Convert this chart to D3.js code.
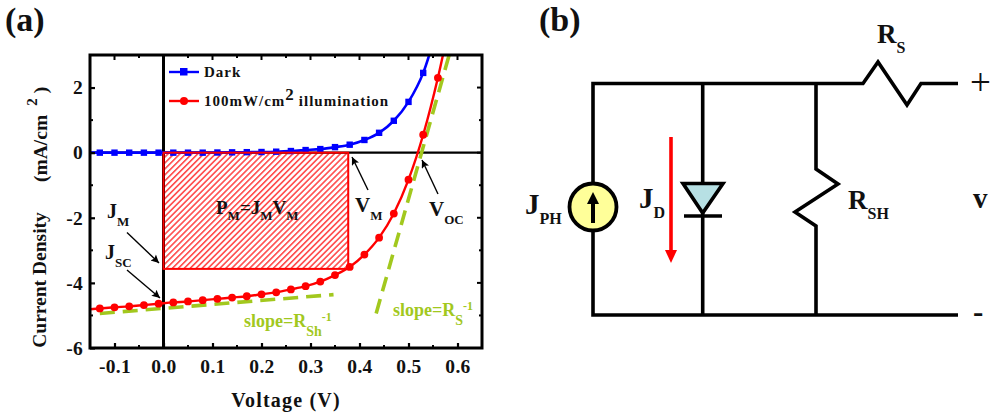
<!DOCTYPE html>
<html><head><meta charset="utf-8">
<script src="https://cdnjs.cloudflare.com/ajax/libs/d3/7.8.5/d3.min.js"></script>
<style>html,body{margin:0;background:#fff}svg{display:block}text{font-family:"Liberation Serif",serif;font-weight:bold;fill:#111}</style>
</head><body><svg id="c" width="1000" height="420"></svg>
<script>
const voltage=[-0.13,-0.10,-0.07,-0.04,-0.01,0.02,0.05,0.08,0.11,0.14,0.17,0.20,0.23,0.26,0.29,0.32,0.35,0.38,0.41,0.44,0.47,0.50,0.53,0.56];
const darkJ=[0,0,0,0,0,0,0,0,0.005,0.01,0.015,0.02,0.03,0.05,0.08,0.11,0.17,0.245,0.39,0.61,0.98,1.56,2.45,3.9];
const lightJ=[-4.785,-4.75,-4.72,-4.68,-4.64,-4.60,-4.57,-4.53,-4.49,-4.45,-4.41,-4.35,-4.29,-4.20,-4.10,-3.96,-3.76,-3.51,-3.13,-2.61,-1.87,-0.83,0.55,2.30];
const xTicks=[-0.1,0,0.1,0.2,0.3,0.4,0.5,0.6];
const xMinor=[-0.05,0.05,0.15,0.25,0.35,0.45,0.55];
const yTicks=[-6,-4,-2,0,2];
const yMinor=[-5,-3,-1,1];
const shuntFit=[[-0.13,-4.94],[0.347,-4.36]];
const seriesFit=[[0.434,-4.94],[0.583,3]];
const maxPower={v:0.377,j:-3.57};

const svg=d3.select("#c");
const x=d3.scaleLinear([-0.15,0.65],[90,482]);
const y=d3.scaleLinear([-6,3],[348,55]);
const RED="#ff0000",BLUE="#0000ff",GREEN="#a2c81e";
const defs=svg.append("defs");
const pat=defs.append("pattern").attr("id","hatch").attr("width",4.2).attr("height",4.2)
 .attr("patternUnits","userSpaceOnUse").attr("patternTransform","rotate(-45)");
pat.append("rect").attr("width",4.2).attr("height",1.6).attr("fill",RED).attr("opacity",.7);
const clip=defs.append("clipPath").attr("id","pl");
clip.append("rect").attr("x",x(-0.15)).attr("y",y(3)).attr("width",x(0.65)-x(-0.15)).attr("height",y(-6)-y(3));
const mk=defs.append("marker").attr("id","ah").attr("viewBox","0 0 10 10").attr("refX",10).attr("refY",5)
 .attr("markerWidth",10).attr("markerHeight",8).attr("markerUnits","userSpaceOnUse").attr("orient","auto");
mk.append("path").attr("d","M0,0L10,5L0,10L2,5Z").attr("fill","#000");

function label(g,px,py,main,sub,size,subSize,fill,ls){
 const t=g.append("text").attr("x",px).attr("y",py).attr("font-size",size);
 if(fill)t.style("fill",fill);
 if(ls)t.attr("letter-spacing",ls);
 t.append("tspan").text(main);
 if(sub){t.append("tspan").attr("font-size",subSize).attr("dy",subSize*0.65).text(sub);}
 return t;
}

// Panel (a)
const a=svg.append("g");
a.append("rect").attr("x",x(0)).attr("y",y(0)).attr("width",x(maxPower.v)-x(0)).attr("height",y(maxPower.j)-y(0))
 .attr("fill","url(#hatch)");
a.append("line").attr("x1",x(-0.15)).attr("x2",x(0.65)).attr("y1",y(0)).attr("y2",y(0)).attr("stroke","#000").attr("stroke-width",2.4);
a.append("line").attr("x1",x(0)).attr("x2",x(0)).attr("y1",y(3)).attr("y2",y(-6)).attr("stroke","#000").attr("stroke-width",3);

const plot=a.append("g").attr("clip-path","url(#pl)");
const ln=d3.line().x(d=>x(d[0])).y(d=>y(d[1]));
[shuntFit,seriesFit].forEach(d=>plot.append("path").attr("d",ln(d)).attr("fill","none").attr("stroke",GREEN).attr("stroke-width",3.6).attr("stroke-dasharray","15 8"));
const smooth=d3.line().x(d=>x(d[0])).y(d=>y(d[1])).curve(d3.curveMonotoneX);
const dark=voltage.map((v,i)=>[v,darkJ[i]]),light=voltage.map((v,i)=>[v,lightJ[i]]);
plot.append("path").attr("d",smooth([[-0.15,0],...dark])).attr("fill","none").attr("stroke",BLUE).attr("stroke-width",2.6);
plot.selectAll(".d").data(dark).join("rect").attr("x",d=>x(d[0])-3.2).attr("y",d=>y(d[1])-3.2).attr("width",6.4).attr("height",6.4).attr("fill",BLUE);
a.append("rect").attr("x",x(0)).attr("y",y(0)).attr("width",x(maxPower.v)-x(0)).attr("height",y(maxPower.j)-y(0))
 .attr("fill","none").attr("stroke",RED).attr("stroke-width",2);
const plot2=a.append("g").attr("clip-path","url(#pl)");
plot2.append("path").attr("d",smooth([[-0.15,-4.81],...light,[0.6,5.2]])).attr("fill","none").attr("stroke",RED).attr("stroke-width",2.4);
plot2.selectAll(".l").data(light).join("circle").attr("cx",d=>x(d[0])).attr("cy",d=>y(d[1])).attr("r",3.9).attr("fill",RED);

const hy=f=>d=>f(d).replace("\u2212","-");
const bottom=d3.axisBottom(x).tickValues(xTicks).tickSizeOuter(0).tickSizeInner(-5).tickPadding(11).tickFormat(hy(d3.format(".1f")));
const left=d3.axisLeft(y).tickValues(yTicks).tickSizeOuter(0).tickSizeInner(-5).tickPadding(7).tickFormat(hy(d3.format("d")));
function ax(gen,tr){const g=a.append("g").attr("transform",tr).call(gen);g.select(".domain").remove();
 g.selectAll("line").attr("stroke","#000").attr("stroke-width",2.2);
 g.selectAll("text").attr("font-size",19.5).style("font-family",'"Liberation Serif",serif').style("font-weight","bold").attr("letter-spacing",.3).attr("fill","#111");return g;}
ax(bottom,`translate(0,${y(-6)})`);
ax(left,`translate(${x(-0.15)},0)`);
const tk=(vals,f,len)=>vals.forEach(v=>{const p=f(v,len);a.append("line").attr("x1",p[0]).attr("y1",p[1]).attr("x2",p[2]).attr("y2",p[3]).attr("stroke","#000").attr("stroke-width",2);});
tk(xTicks,(v,l)=>[x(v),y(3),x(v),y(3)+l],5);
tk(xMinor,(v,l)=>[x(v),y(3),x(v),y(3)+l],3);
tk(xMinor,(v,l)=>[x(v),y(-6),x(v),y(-6)-l],3);
tk(yTicks,(v,l)=>[x(0.65),y(v),x(0.65)-l,y(v)],5);
tk(yMinor,(v,l)=>[x(0.65),y(v),x(0.65)-l,y(v)],3);
tk(yMinor,(v,l)=>[x(-0.15),y(v),x(-0.15)+l,y(v)],3);
a.append("rect").attr("x",x(-0.15)).attr("y",y(3)).attr("width",x(0.65)-x(-0.15)).attr("height",y(-6)-y(3)).attr("fill","none").attr("stroke","#000").attr("stroke-width",3);

// legend
a.append("line").attr("x1",169).attr("x2",199).attr("y1",72).attr("y2",72).attr("stroke",BLUE).attr("stroke-width",2.4);
a.append("rect").attr("x",180).attr("y",68).attr("width",7.5).attr("height",7.5).attr("fill",BLUE);
a.append("text").attr("x",204).attr("y",77).attr("font-size",15).attr("letter-spacing",1).text("Dark");
a.append("line").attr("x1",169).attr("x2",199).attr("y1",101).attr("y2",101).attr("stroke",RED).attr("stroke-width",2.4);
a.append("circle").attr("cx",184).attr("cy",101).attr("r",4).attr("fill",RED);
const lg=a.append("text").attr("x",204).attr("y",106).attr("font-size",15).attr("letter-spacing",1);
lg.append("tspan").text("100mW/cm");
lg.append("tspan").attr("font-size",17).attr("dy",-6).text("2");
lg.append("tspan").attr("dy",6).attr("dx",4).text("illumination");

// axis titles
a.append("text").attr("x",286).attr("y",407).attr("text-anchor","middle").attr("font-size",20).attr("letter-spacing",1.2).text("Voltage (V)");
a.append("text").attr("transform","translate(46,280) rotate(-90)").attr("text-anchor","middle").attr("font-size",19.5).text("Current Density");
const yt=a.append("text").attr("transform","translate(47,182) rotate(-90)").attr("font-size",19.5);
yt.append("tspan").text("(mA/cm");
yt.append("tspan").attr("font-size",15).attr("dx",9).attr("dy",-10).text("2");
yt.append("tspan").attr("dx",5).attr("dy",10).text(")");

// annotations
[[127,232.5,159,263],[127,270,160,298],[368,190,352,157],[438,194,422,160]].forEach(c=>
 a.append("line").attr("x1",c[0]).attr("y1",c[1]).attr("x2",c[2]).attr("y2",c[3]).attr("stroke","#000").attr("stroke-width",1.4).attr("marker-end","url(#ah)"));
label(a,107,218,"J","M",20,13);
label(a,105,259,"J","SC",20,13);
label(a,355,212,"V","M",21,13);
label(a,429,216,"V","OC",21,13);
const pm=a.append("text").attr("x",216).attr("y",214).attr("font-size",19);
[["P","M"],["=J","M"],["V","M"]].forEach((p,i)=>{
 pm.append("tspan").attr("dy",i?-6:0).text(p[0]);
 pm.append("tspan").attr("font-size",13).attr("dy",6).text(p[1]);
});
const s1=label(a,244,327,"slope=R","Sh",18,14,GREEN);
s1.append("tspan").attr("font-size",12).attr("dy",-15).text("-1");
const s2=label(a,393,316,"slope=R","S",18,14,GREEN);
s2.append("tspan").attr("font-size",12).attr("dy",-15).text("-1");
a.append("text").attr("x",5).attr("y",31).attr("font-size",34).text("(a)");

// Panel (b): schematic
const b=svg.append("g").attr("fill","none").attr("stroke","#000").attr("stroke-width",3.6).attr("stroke-linejoin","miter");
const poly=(pts,o)=>{const p=b.append("path").attr("d",d3.line()(pts));if(o)Object.entries(o).forEach(([k,v])=>p.attr(k,v));return p;};
poly([[593,184],[593,83.5],[863,83.5],[878,62],[907,105],[921,83.5],[958,83.5]]);
poly([[593,230],[593,315],[958,315]]);
poly([[702.7,83.5],[702.7,315]]);
poly([[816,83.5],[816,169],[838,184],[795,212],[816,226],[816,315]]);
b.append("circle").attr("cx",593).attr("cy",207).attr("r",23.5).attr("fill","#ffff99").attr("stroke-width",3.8);
poly([[593,223],[593,200]],{"stroke-width":4});
b.append("path").attr("d",d3.line()([[593,192],[599,204],[587,204]])+"Z").attr("fill","#000").attr("stroke","none");
b.append("path").attr("d",d3.line()([[683,183.5],[723,183.5],[702.7,213]])+"Z").attr("fill","#b7e0e4");
poly([[684,216],[722,216]]);
b.append("line").attr("x1",671).attr("x2",671).attr("y1",137).attr("y2",252).attr("stroke",RED).attr("stroke-width",3.6);
b.append("path").attr("d",d3.line()([[665,250],[677,250],[671,263]])+"Z").attr("fill",RED).attr("stroke","none");
const c=svg.append("g");
c.append("text").attr("x",539).attr("y",31).attr("font-size",34).text("(b)");
label(c,525,214,"J","PH",29,16);
label(c,639,208,"J","D",29,16);
label(c,877,43,"R","S",27,16);
label(c,848,209,"R","SH",27,16);
c.append("text").attr("x",973).attr("y",208).attr("font-size",29).text("v");
c.append("text").attr("x",970).attr("y",95).attr("font-size",37).style("font-weight","normal").text("+");
c.append("text").attr("x",973).attr("y",322).attr("font-size",31).text("-");
</script></body></html>
